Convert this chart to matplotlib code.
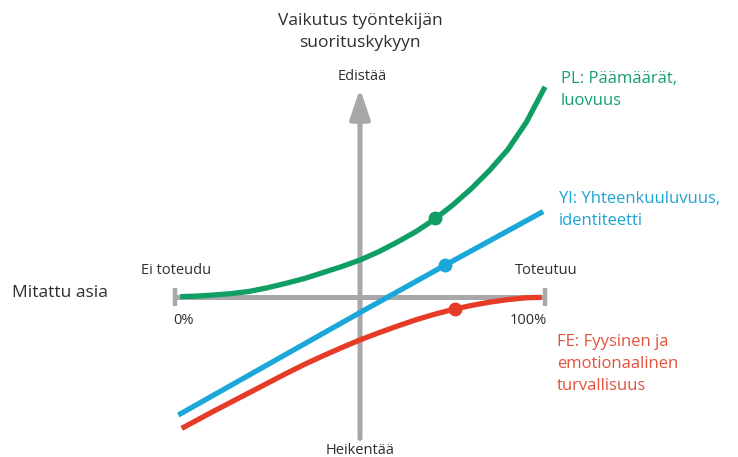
import matplotlib.pyplot as plt

plt.rcParams['font.family'] = ['Open Sans', 'DejaVu Sans']

# x = how far the measured thing is realised (%), y = effect on performance
pl_x = [1.4, 5, 10, 15, 20, 25, 30, 35, 40, 45, 50, 55, 60, 65, 70, 75, 80, 85, 90, 95, 100]
pl_y = [0.1, 0.2, 0.5, 0.9, 1.5, 2.5, 3.7, 5.0, 6.6, 8.2, 10.0, 12.2, 14.8, 17.6, 20.9,
        24.8, 29.2, 34.2, 39.9, 47.3, 56.8]

yl_x = [0.9, 50.0, 73.0, 99.5]
yl_y = [-31.9, -4.2, 8.6, 23.1]

fe_x = [1.8, 5, 10, 15, 20, 25, 30, 35, 40, 45, 50, 55, 60, 65, 70, 75, 80, 85, 90, 95, 99.1]
fe_y = [-35.5, -33.8, -31.1, -28.5, -25.9, -23.3, -20.7, -18.2, -15.9, -13.7, -11.6,
        -9.7, -7.9, -6.2, -4.7, -3.4, -2.3, -1.4, -0.7, -0.2, -0.1]

# highlighted points on each curve
dots_x = [70.3, 73.0, 75.7]
dots_y = [21.3, 8.6, -3.3]

green = '#0f9e64'
blue = '#1ba8d9'
red = '#e63c27'
grey = '#a8a8ab'
dark = '#2e2e2e'

fig = plt.figure(figsize=(7.38, 4.57), dpi=100)
ax = fig.add_axes([0, 0, 1, 1])
s = 3.7  # pixels per data unit
ax.set_xlim(-175 / s, 563 / s)
ax.set_ylim(-160 / s, 297 / s)
ax.axis('off')

# horizontal axis with end caps
ax.plot([0, 100], [0, 0], color=grey, lw=3.6, solid_capstyle='butt', zorder=1)
for xc in (0, 100):
    ax.plot([xc, xc], [-2.3, 2.3], color=grey, lw=3.2, solid_capstyle='butt', zorder=1)

# vertical axis with arrow head
ax.annotate('', xy=(50, 56.4), xytext=(50, -38.2),
            arrowprops=dict(arrowstyle='-|>,head_length=1.8,head_width=0.6',
                            mutation_scale=10, color=grey, lw=3.6,
                            shrinkA=0, shrinkB=0), zorder=1)

ax.plot(yl_x, yl_y, color=blue, lw=3.8, solid_capstyle='butt', zorder=3)
ax.plot(fe_x, fe_y, color=red, lw=3.8, solid_capstyle='butt', zorder=3)
ax.plot(pl_x, pl_y, color=green, lw=3.8, solid_capstyle='butt', zorder=3)
for x, y, c in zip(dots_x, dots_y, [green, blue, red]):
    ax.plot(x, y, 'o', color=c, ms=9, zorder=4)


def P(px, py):
    # pixel position in the picture -> data coords
    return (px - 175) / s, (297 - py) / s


ax.text(*P(360, 32), 'Vaikutus työntekijän\nsuorituskykyyn', ha='center', va='center',
        fontsize=12.5, color=dark, linespacing=1.45)
ax.text(*P(362, 76), 'Edistää', ha='center', va='center', fontsize=10.5, color=dark)
ax.text(*P(360, 450), 'Heikentää', ha='center', va='center', fontsize=10.5, color=dark)
ax.text(*P(211, 271), 'Ei toteudu', ha='right', va='center', fontsize=10.5, color=dark)
ax.text(*P(515, 271), 'Toteutuu', ha='left', va='center', fontsize=10.5, color=dark)
ax.text(*P(183, 320), '0%', ha='center', va='center', fontsize=10.5, color=dark)
ax.text(*P(547, 320), '100%', ha='right', va='center', fontsize=10.5, color=dark)
ax.text(*P(12, 293), 'Mitattu asia', ha='left', va='center', fontsize=12.5, color=dark)

ax.text(*P(561, 90), 'PL: Päämäärät,\nluovuus', ha='left', va='center',
        fontsize=12, color='#17a06c', linespacing=1.5)
ax.text(*P(559, 210), 'Yl: Yhteenkuuluvuus,\nidentiteetti', ha='left', va='center',
        fontsize=12, color='#1fa4d2', linespacing=1.5)
ax.text(*P(557, 364), 'FE: Fyysinen ja\nemotionaalinen\nturvallisuus', ha='left', va='center',
        fontsize=12, color='#e2523c', linespacing=1.5)

fig.savefig('out.png', dpi=100)
